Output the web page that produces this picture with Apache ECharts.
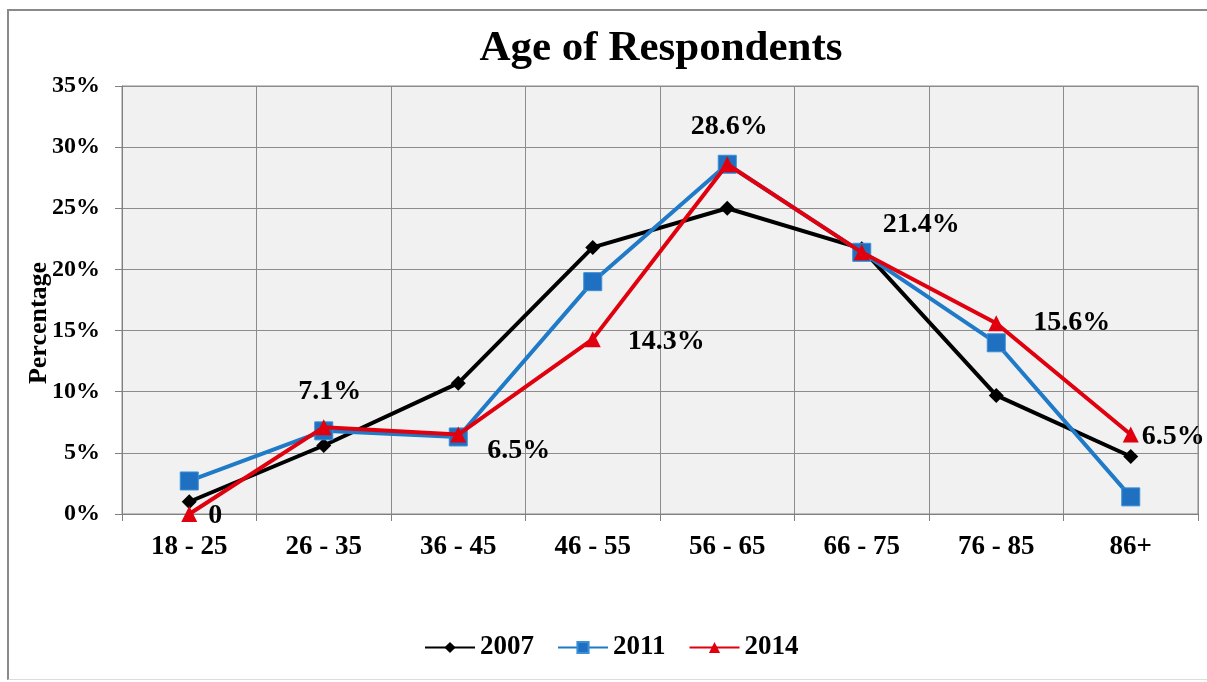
<!DOCTYPE html>
<html>
<head>
<meta charset="utf-8">
<script src="https://cdn.jsdelivr.net/npm/echarts@6/dist/echarts.min.js"></script>
<style>
  html, body { margin: 0; padding: 0; background: #fff; }
  #frame {
    position: absolute; left: 7px; top: 9px; width: 1210px; height: 671px;
    border-left: 2px solid #8a8a8a; border-top: 2px solid #8a8a8a;
    border-bottom: 1px solid #dcdcdc; box-sizing: border-box;
  }
  #chart { position: absolute; left: 0; top: 0; width: 1207px; height: 682px; }
</style>
</head>
<body>
<div id="frame"></div>
<div id="chart"></div>
<script>
const ageGroups = ['18 - 25', '26 - 35', '36 - 45', '46 - 55', '56 - 65', '66 - 75', '76 - 85', '86+']
const values2007 = [1.0, 5.6, 10.7, 21.8, 25.0, 21.7, 9.7, 4.7]
const values2011 = [2.7, 6.8, 6.3, 19.0, 28.6, 21.4, 14.0, 1.4]
const values2014 = [0, 7.1, 6.5, 14.3, 28.6, 21.4, 15.6, 6.5]
const labels2014 = ['0', '7.1%', '6.5%', '14.3%', '28.6%', '21.4%', '15.6%', '6.5%']

const serif = '"Liberation Serif", "DejaVu Serif", serif'

// where each 2014 label sits relative to its point
const labelPlace = [
  { position: 'right', offset: [6, 2] },
  { position: 'top', offset: [6, -8] },
  { position: 'right', offset: [16, 16] },
  { position: 'right', offset: [22, 3] },
  { position: 'top', offset: [2, -10] },
  { position: 'right', offset: [8, -28] },
  { position: 'right', offset: [24, 0] },
  { position: 'right', offset: [-2, 2] },
]

const chart = echarts.init(document.getElementById('chart'))

const option = {
  animation: false,
  title: {
    text: 'Age of Respondents',
    left: 656,
    top: 22,
    textAlign: 'center',
    textStyle: { fontFamily: serif, fontWeight: 'bold', fontSize: 43, color: '#000' }
  },
  legend: {
    bottom: 16,
    left: 419,
    itemWidth: 50,
    itemHeight: 14,
    itemGap: 23,
    textStyle: { fontFamily: serif, fontWeight: 'bold', fontSize: 27, color: '#000' },
    data: ['2007', '2011', '2014']
  },
  grid: {
    left: 122,
    right: 9,
    top: 86,
    bottom: 168,
    show: true,
    backgroundColor: '#f1f1f1',
    borderColor: '#8c8c8c',
    borderWidth: 1
  },
  xAxis: {
    type: 'category',
    data: ageGroups,
    boundaryGap: true,
    axisLine: { lineStyle: { color: '#808080', width: 1 } },
    axisTick: { show: true, length: 7, lineStyle: { color: '#808080' } },
    splitLine: { show: true, lineStyle: { color: '#8c8c8c', width: 1 } },
    axisLabel: { margin: 20, fontFamily: serif, fontWeight: 'bold', fontSize: 27, color: '#000' }
  },
  yAxis: {
    type: 'value',
    min: 0,
    max: 35,
    interval: 5,
    name: 'Percentage',
    nameLocation: 'middle',
    nameGap: 70,
    nameMoveOverlap: false,
    nameRotate: 90,
    nameTextStyle: { fontFamily: serif, fontWeight: 'bold', fontSize: 26, color: '#000', padding: [0, 46, 0, 0] },
    axisLine: { show: true, lineStyle: { color: '#808080', width: 1 } },
    axisTick: { show: true, length: 7, lineStyle: { color: '#808080' } },
    splitLine: { show: true, lineStyle: { color: '#8c8c8c', width: 1 } },
    axisLabel: { margin: 22, formatter: '{value}%', fontFamily: serif, fontWeight: 'bold', fontSize: 24, color: '#000' }
  },
  series: [
    {
      name: '2007',
      type: 'line',
      data: values2007,
      symbol: 'diamond',
      symbolSize: 15,
      lineStyle: { color: '#000', width: 4 },
      itemStyle: { color: '#000' },
      z: 2
    },
    {
      name: '2011',
      type: 'line',
      data: values2011,
      symbol: 'rect',
      symbolSize: 18,
      lineStyle: { color: '#1f7ac8', width: 4 },
      itemStyle: { color: '#1f70c1', borderColor: '#3a8fd6', borderWidth: 1 },
      z: 3
    },
    {
      name: '2014',
      type: 'line',
      data: values2014.map((v, i) => ({
        value: v,
        label: {
          show: true,
          formatter: labels2014[i],
          position: labelPlace[i].position,
          offset: labelPlace[i].offset
        }
      })),
      symbol: 'triangle',
      symbolSize: 16,
      lineStyle: { color: '#e0000e', width: 4 },
      itemStyle: { color: '#e0000e' },
      label: { fontFamily: serif, fontWeight: 'bold', fontSize: 28, color: '#000' },
      z: 4
    }
  ]
}

chart.setOption(option)
window.addEventListener('resize', () => chart.resize())
</script>
</body>
</html>
